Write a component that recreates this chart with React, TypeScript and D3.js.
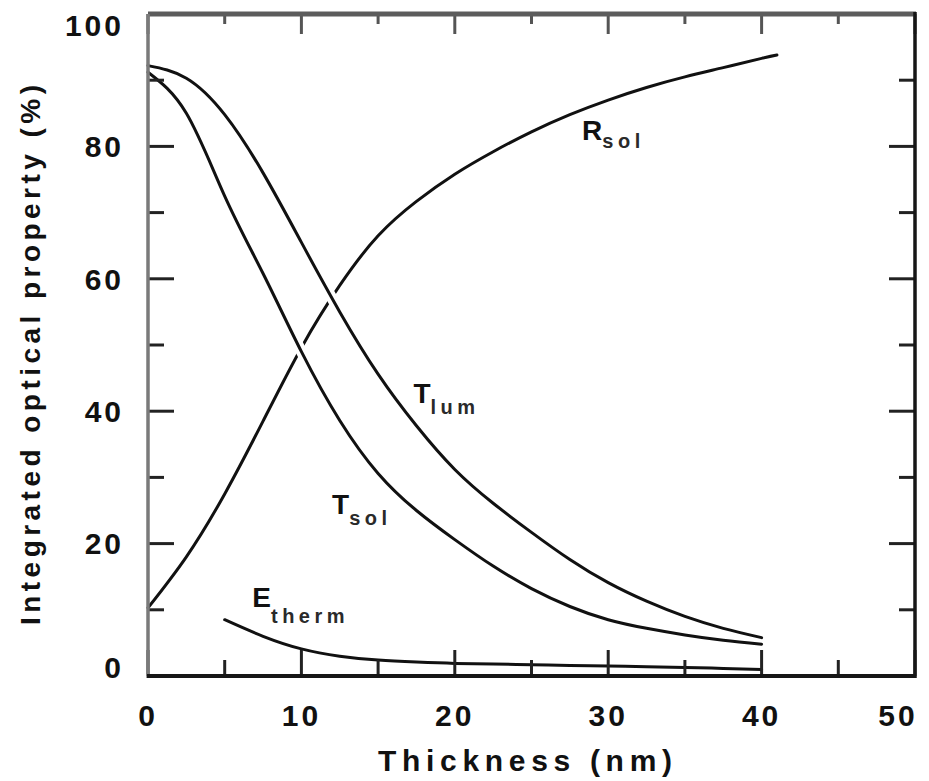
import * as d3 from "d3";

const W = 929;
const H = 781;
const font = "'Liberation Sans', Arial, Helvetica, sans-serif";

// values (thickness in nm, property in %)
const thickness = [0, 2.5, 5, 7.5, 10, 12.5, 15, 17.5, 20, 22.5, 25, 27.5, 30, 32.5, 35, 37.5, 40];
const tLum = [92.2, 90.3, 84.8, 76, 65.5, 55, 45.6, 37.8, 31.2, 26.1, 21.7, 17.6, 14.1, 11.3, 9.0, 7.2, 5.8];
const tSol = [91.2, 85, 72.5, 60.8, 49, 38.6, 30.6, 25, 20.6, 16.6, 13.2, 10.5, 8.5, 7.2, 6.2, 5.4, 4.8];

const rThickness = [0, 2.5, 5, 7.5, 10, 12.5, 15, 17.5, 20, 22.5, 25, 27.5, 30, 32.5, 35, 37.5, 40, 41];
const rSol = [10.3, 18, 27.5, 38.5, 49.6, 59, 66.5, 71.7, 75.8, 79.2, 82.2, 84.8, 87, 88.9, 90.5, 91.9, 93.3, 93.8];

const eThickness = [5, 7.5, 10, 12.5, 15, 17.5, 20, 22.5, 25, 27.5, 30, 32.5, 35, 37.5, 40];
const eTherm = [8.5, 6, 4.1, 3, 2.4, 2.1, 1.9, 1.8, 1.7, 1.6, 1.5, 1.4, 1.3, 1.15, 1.0];

const xTicks = d3.range(0, 51, 5);
const yTicks = d3.range(0, 101, 10);
const xLabels = [0, 10, 20, 30, 40, 50];
const yLabels = [0, 20, 40, 60, 80, 100];

// curve labels: [main letter, subscript, x, y, subscript drop]
const curveLabels: [string, string, number, number, number][] = [
  ["R", "sol", 28.3, 80.9, 8],
  ["T", "lum", 17.3, 41.3, 11],
  ["T", "sol", 12, 24.4, 11],
  ["E", "therm", 6.8, 10.4, 16],
];

const left = 148;
const right = 915;
const top = 14;
const bottom = 676;

const x = d3.scaleLinear().domain([0, 50]).range([left, right]);
const y = d3.scaleLinear().domain([0, 100]).range([bottom, top]);

const line = d3
  .line<[number, number]>()
  .x((d) => x(d[0]))
  .y((d) => y(d[1]))
  .curve(d3.curveNatural);

const zipPts = (xs: number[], ys: number[]) =>
  xs.map((v, i) => [v, ys[i]] as [number, number]);

const App = () => {
  const lumPath = line(zipPts(thickness, tLum)) || "";
  const solPath = line(zipPts(thickness, tSol)) || "";
  const rPath = line(zipPts(rThickness, rSol)) || "";
  const ePath = line(zipPts(eThickness, eTherm)) || "";

  return (
    <svg
      width={W}
      height={H}
      viewBox={`0 0 ${W} ${H}`}
      style={{ position: "absolute", left: 0, top: 0, background: "#fff" }}
    >
      <rect width={W} height={H} fill="#fff" />

      {/* curves, T curves cut a gap into Rsol where they cross */}
      <g fill="none" strokeLinecap="round">
        <path d={rPath} stroke="#111" strokeWidth={3} />
        <path d={ePath} stroke="#111" strokeWidth={3} />
        <path d={lumPath} stroke="#fff" strokeWidth={11} />
        <path d={solPath} stroke="#fff" strokeWidth={11} />
        <path d={lumPath} stroke="#111" strokeWidth={3} />
        <path d={solPath} stroke="#111" strokeWidth={3} />
      </g>

      {/* ticks on all four sides, pointing inward */}
      <g stroke="#222" strokeWidth={3}>
        {xTicks.map((t) => {
          const len = t % 10 === 0 ? 26 : 16;
          return (
            <g key={"x" + t}>
              <line x1={x(t)} x2={x(t)} y1={bottom} y2={bottom - len} />
              <line x1={x(t)} x2={x(t)} y1={top} y2={top + len - 6} stroke="#555" />
            </g>
          );
        })}
        {yTicks.map((t) => {
          const len = t % 20 === 0 ? 26 : 16;
          return (
            <g key={"y" + t}>
              <line x1={left} x2={left + len} y1={y(t)} y2={y(t)} />
              <line x1={right} x2={right - len} y1={y(t)} y2={y(t)} />
            </g>
          );
        })}
      </g>

      {/* frame */}
      <line x1={left} x2={right + 1} y1={top} y2={top} stroke="#5c5c5c" strokeWidth={5} />
      <line x1={left} x2={left} y1={top} y2={bottom + 2} stroke="#7a7a7a" strokeWidth={3.5} />
      <line x1={right} x2={right} y1={top - 2} y2={bottom + 2} stroke="#161616" strokeWidth={3.5} />
      <line x1={left - 1} x2={right + 1} y1={bottom} y2={bottom} stroke="#161616" strokeWidth={4} />

      {/* tick labels */}
      <g fontFamily={font} fontWeight="bold" fontSize={30} fill="#111" letterSpacing={3}>
        {xLabels.map((t) => (
          <text key={"xl" + t} x={Math.min(x(t), 898)} y={726} textAnchor="middle">
            {t}
          </text>
        ))}
        {yLabels.map((t) => (
          <text
            key={"yl" + t}
            x={124}
            y={Math.min(Math.max(y(t), 25), 667)}
            dy="0.36em"
            textAnchor="end"
          >
            {t}
          </text>
        ))}
      </g>

      {/* axis titles */}
      <text
        x={525}
        y={771}
        textAnchor="middle"
        fontFamily={font}
        fontWeight="bold"
        fontSize={30}
        fill="#111"
        textLength={294}
        lengthAdjust="spacing"
      >
        Thickness (nm)
      </text>
      <text
        transform="translate(40,355) rotate(-90)"
        textAnchor="middle"
        fontFamily={font}
        fontWeight="bold"
        fontSize={28}
        fill="#111"
        textLength={540}
        lengthAdjust="spacing"
      >
        Integrated optical property (%)
      </text>

      {/* curve labels */}
      <g fontFamily={font} fontWeight="bold" fill="#111">
        {curveLabels.map(([main, sub, lx, ly, drop]) => (
          <text key={main + sub} x={x(lx)} y={y(ly)} fontSize={28}>
            {main}
            <tspan dy={drop} fontSize={20} letterSpacing={4.5} fill="#2a2a2a">
              {sub}
            </tspan>
          </text>
        ))}
      </g>
    </svg>
  );
};

export default App;
